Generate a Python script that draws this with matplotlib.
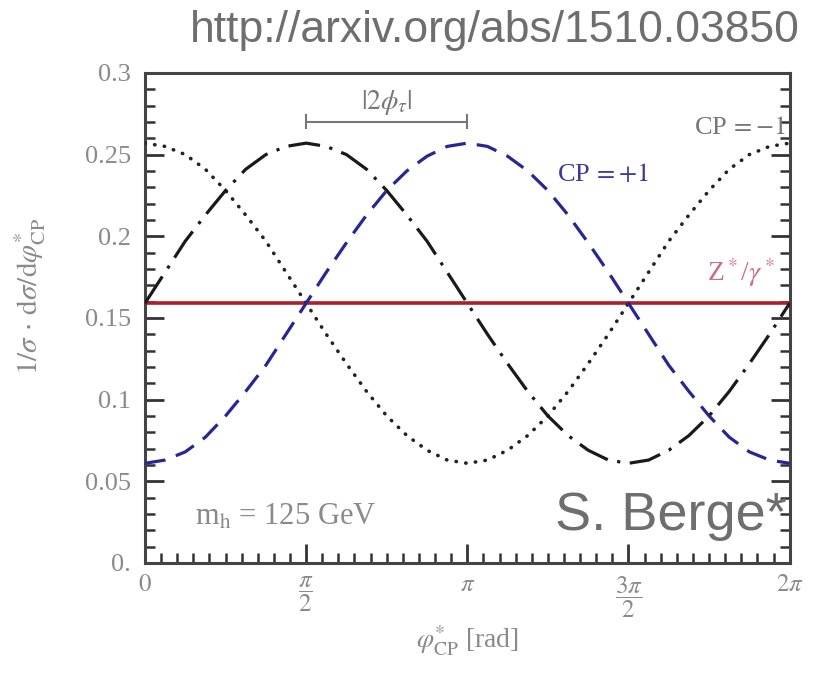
import numpy as np
import matplotlib
matplotlib.use("Agg")
import matplotlib.pyplot as plt
from matplotlib.ticker import MultipleLocator, FixedLocator

plt.rcParams["mathtext.fontset"] = "stix"
plt.rcParams["font.family"] = ["Liberation Serif", "DejaVu Serif"]

# phi*_CP sampled every pi/16 over [0, 2pi]
phi = np.arange(33) * np.pi / 16

# normalised distributions
cp_minus = [0.257, 0.255, 0.250, 0.241, 0.228, 0.213, 0.197, 0.178, 0.159,
            0.140, 0.122, 0.105, 0.090, 0.078, 0.069, 0.063, 0.061,
            0.063, 0.069, 0.078, 0.090, 0.105, 0.122, 0.140, 0.159,
            0.178, 0.197, 0.213, 0.228, 0.241, 0.250, 0.255, 0.257]
cp_plus = [0.061, 0.063, 0.068, 0.077, 0.090, 0.105, 0.121, 0.140, 0.159,
           0.178, 0.196, 0.213, 0.228, 0.240, 0.249, 0.255, 0.257,
           0.255, 0.249, 0.240, 0.228, 0.213, 0.196, 0.178, 0.159,
           0.140, 0.121, 0.105, 0.090, 0.077, 0.068, 0.063, 0.061]
mixed = [0.159, 0.178, 0.197, 0.213, 0.228, 0.241, 0.250, 0.255, 0.257,
         0.255, 0.250, 0.241, 0.228, 0.213, 0.197, 0.178, 0.159,
         0.140, 0.122, 0.105, 0.090, 0.078, 0.069, 0.063, 0.061,
         0.063, 0.069, 0.078, 0.090, 0.105, 0.122, 0.140, 0.159]
z_gamma = 0.159

xtick_pos = [0, np.pi / 2, np.pi, 3 * np.pi / 2, 2 * np.pi]
xtick_labels = [r"$0$", r"$\dfrac{\pi}{2}$", r"$\pi$", r"$\dfrac{3\pi}{2}$", r"$2\pi$"]
ytick_pos = [0, 0.05, 0.1, 0.15, 0.2, 0.25, 0.3]
ytick_labels = ["0.", "0.05", "0.1", "0.15", "0.2", "0.25", "0.3"]

fig = plt.figure(figsize=(8.26, 6.75), dpi=100)
ax = fig.add_axes([0.1755, 0.166, 0.7805, 0.726])

tick_grey = "#8a8a8a"

ax.axhline(z_gamma, color="#a8202a", lw=2.6, zorder=2)
ax.plot(phi, cp_minus, color="#222222", lw=2.6,
        linestyle=(0, (0.1, 2.6)), dash_capstyle="round", zorder=3)
ax.plot(phi, cp_plus, color="#262696", lw=2.3,
        linestyle=(0, (6.5, 3.5)), zorder=3)
ax.plot(phi, mixed, color="#1a1a1a", lw=2.3,
        linestyle=(0, (10, 3, 1, 3)), zorder=3)

ax.set_xlim(0, 2 * np.pi)
ax.set_ylim(0, 0.3)

ax.xaxis.set_major_locator(FixedLocator(xtick_pos))
ax.set_xticklabels(xtick_labels, va="top")
ax.xaxis.set_minor_locator(MultipleLocator(np.pi / 20))
ax.yaxis.set_major_locator(FixedLocator(ytick_pos))
ax.set_yticklabels(ytick_labels)
ax.yaxis.set_minor_locator(MultipleLocator(0.01))

ax.tick_params(which="both", direction="in", right=True, top=False,
               colors="#333333", labelcolor=tick_grey, labelsize=19)
ax.tick_params(axis="x", which="major", labelsize=18)
ax.tick_params(which="major", length=14, width=2.0)
ax.tick_params(which="minor", length=7, width=1.8)
ax.tick_params(axis="y", pad=10)
ax.tick_params(axis="x", pad=8)
for s in ax.spines.values():
    s.set_linewidth(2.2)
    s.set_color("#444444")

ax.set_ylabel(r"$1/\sigma\,\cdot\,\mathrm{d}\sigma/\mathrm{d}\varphi^{*}_{\mathrm{CP}}$",
              fontsize=21, color=tick_grey)
ax.yaxis.set_label_coords(-0.150, 0.545)
ax.set_xlabel(r"$\varphi^{*}_{\mathrm{CP}}$ [rad]", fontsize=20, color=tick_grey)
ax.xaxis.set_label_coords(0.5, -0.125)

# annotations inside the frame
ax.text(6.24, 0.266, r"CP$\,=-1$", color="#777777", fontsize=19,
        ha="right", va="center")
ax.text(4.46, 0.238, r"CP$\,=+1$", color="#3a3aa0", fontsize=19,
        ha="center", va="center")
ax.text(6.14, 0.178, r"Z$^*$/$\gamma^*$", color="#c87080", fontsize=20,
        ha="right", va="center")
ax.text(0.49, 0.028, r"m$_\mathrm{h}$ = 125 GeV", color="#8a8a8a", fontsize=22,
        ha="left", va="center")

# |2 phi_tau| interval between pi/2 and pi
y_bar = 0.27
ax.plot([np.pi / 2, np.pi], [y_bar, y_bar], color="#777777", lw=1.5)
for xe in (np.pi / 2, np.pi):
    ax.plot([xe, xe], [y_bar - 0.004, y_bar + 0.004], color="#777777", lw=1.5)
ax.text(3 * np.pi / 4, 0.282, r"$|2\phi_\tau|$", color="#777777", fontsize=20,
        ha="center", va="center")

fig.text(0.968, 0.955, "http://arxiv.org/abs/1510.03850", family="Liberation Sans",
         fontsize=32, color="#6e6e6e", ha="right", va="center")
fig.text(0.953, 0.235, "S. Berge*", family="Liberation Sans",
         fontsize=39, color="#6e6e6e", ha="right", va="center")

fig.savefig("out.png", dpi=100)
